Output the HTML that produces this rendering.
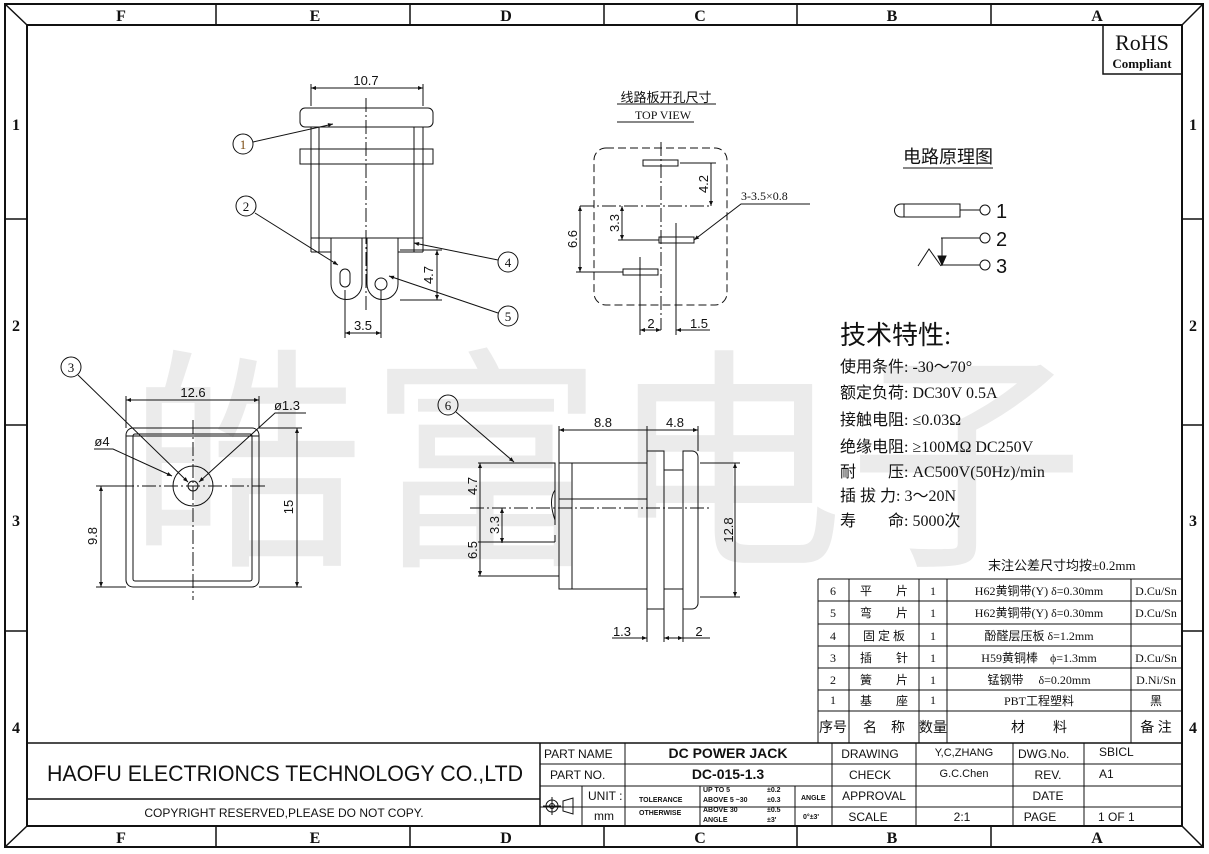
<!DOCTYPE html>
<html><head><meta charset="utf-8"><style>
html,body{margin:0;padding:0;background:#fff;}
svg{display:block;}
text{font-family:"Liberation Sans","Noto Sans CJK SC",sans-serif;fill:#111;}
.s,.s text{font-family:"Liberation Serif","Noto Serif CJK SC","Noto Sans CJK SC",serif;}
.cj,.cj text{font-family:"Liberation Serif","Noto Sans CJK SC",serif;}
</style></head><body>
<svg width="1209" height="854" viewBox="0 0 1209 854" xmlns="http://www.w3.org/2000/svg">
<defs><marker id="a" viewBox="0 0 10 10" refX="10" refY="5" markerWidth="7" markerHeight="5" orient="auto-start-reverse"><path d="M0,1 L10,5 L0,9z" fill="#111"/></marker></defs>
<!-- watermark -->
<text x="128" y="548" font-size="236" style="font-family:'Noto Sans CJK SC',sans-serif;fill:#ebebeb" letter-spacing="4">皓富电子</text>

<g stroke="#111" fill="none">
<rect x="5" y="4" width="1198" height="843" stroke-width="2"/>
<rect x="27" y="25" width="1155" height="801" stroke-width="2"/>
<path d="M5,4 L27,25 M1203,4 L1182,25 M5,847 L27,826 M1203,847 L1182,826" stroke-width="1.5"/>
<path d="M216,4V25 M410,4V25 M604,4V25 M797,4V25 M991,4V25 M216,826V847 M410,826V847 M604,826V847 M797,826V847 M991,826V847" stroke-width="1.5"/>
<path d="M5,219H27 M5,425H27 M5,631H27 M1182,219H1203 M1182,425H1203 M1182,631H1203" stroke-width="1.5"/>
<rect x="1103" y="25" width="79" height="49" stroke-width="1.5"/>

<path d="M27,743H1182 M27,799H540 M540,743V826" stroke-width="1.5"/>
<path d="M540,764H1182 M540,786H1182 M540,807H1182 M625,743V826 M832,743V826 M916,743V826 M1013,743V826 M1084,743V826 M582,786V826 M700,786V826 M795,786V826" stroke-width="1"/>
<path d="M818,579H1182 M818,601H1182 M818,624H1182 M818,646H1182 M818,668H1182 M818,690H1182 M818,711H1182 M818,579V743 M849,579V743 M919,579V743 M947,579V743 M1131,579V743" stroke-width="1"/>

<g stroke-width="1">
<rect x="300" y="108" width="133" height="19" rx="5"/>
<rect x="300" y="149" width="133" height="15"/>
<path d="M311,127V252 M319,127V252 M414,127V252 M423,127V252 M311,238H423 M311,252H331 M398,252H423"/>
<path d="M331,238V284 A15.5,15.5 0 0 0 362,284 V238"/>
<path d="M367,238V284 A15.5,15.5 0 0 0 398,284 V238"/>
<rect x="340" y="269" width="10" height="18" rx="5"/>
<circle cx="381" cy="284" r="6"/>
<path d="M366,98V310" stroke-dasharray="14,3,2,3"/>
<path d="M311,84V106 M423,84V106"/>
<path d="M311,88H423" marker-start="url(#a)" marker-end="url(#a)"/>
<path d="M400,250H442 M400,300H442"/>
<path d="M437,250V300" marker-start="url(#a)" marker-end="url(#a)"/>
<path d="M345,290V338 M381,290V338"/>
<path d="M345,333H381" marker-start="url(#a)" marker-end="url(#a)"/>
<circle cx="243" cy="144" r="10"/><path d="M253,142L333,124" marker-end="url(#a)"/>
<circle cx="246" cy="206" r="10"/><path d="M255,213L338,265" marker-end="url(#a)"/>
<circle cx="508" cy="262" r="10"/><path d="M498,260L414,243" marker-end="url(#a)"/>
<circle cx="508" cy="316" r="10"/><path d="M498,313L389,276" marker-end="url(#a)"/>
</g>

<g stroke-width="1">
<rect x="126" y="428" width="133" height="159" rx="7"/>
<rect x="133" y="434" width="119" height="147" rx="2"/>
<path d="M126,436H259"/>
<circle cx="193" cy="486" r="20"/><circle cx="193" cy="486" r="5"/>
<path d="M98,486H265 M193,420V600" stroke-dasharray="14,3,2,3"/>
<path d="M126,396V428 M259,396V428"/>
<path d="M126,400H259" marker-start="url(#a)" marker-end="url(#a)"/>
<path d="M259,428H302 M259,587H302"/>
<path d="M297,428V587" marker-start="url(#a)" marker-end="url(#a)"/>
<path d="M96,486H126 M96,587H126"/>
<path d="M101,486V587" marker-start="url(#a)" marker-end="url(#a)"/>
<circle cx="71" cy="367" r="10"/><path d="M78,375L188,482" marker-end="url(#a)"/>
<path d="M94,449H113L172,476" marker-end="url(#a)"/>
<path d="M306,413H275L199,482" marker-end="url(#a)"/>
</g>

<g stroke-width="1">
<rect x="559" y="463" width="88" height="126"/>
<path d="M572,463V589 M559,455V463"/>
<rect x="647" y="451" width="17" height="158"/>
<path d="M664,470H683 M664,589H683"/>
<path d="M683,609V451H692A6,6 0 0 1 698,457V603A6,6 0 0 1 692,609Z"/>
<path d="M478,463H555V470 M478,542H555 M478,576H559 M514,463H535 M514,542H535 M514,576H535"/>
<path d="M555,470V525 M555,535V542"/>
<path d="M555,490Q548,500 555,520"/>
<path d="M559,499H647"/>
<path d="M470,508H710" stroke-dasharray="14,3,2,3"/>
<path d="M559,426V463 M647,426V451 M698,426V451"/>
<path d="M559,430H647 M647,430H698" marker-start="url(#a)" marker-end="url(#a)"/>
<path d="M700,463H740 M700,597H740"/>
<path d="M735,463V597" marker-start="url(#a)" marker-end="url(#a)"/>
<path d="M480,463V508 M480,508V576" marker-start="url(#a)" marker-end="url(#a)"/>
<path d="M502,508V543" marker-start="url(#a)" marker-end="url(#a)"/>
<path d="M647,609V642 M664,609V642 M683,609V642"/>
<path d="M612,638H647" marker-end="url(#a)"/><path d="M664,638H683" marker-start="url(#a)" marker-end="url(#a)"/><path d="M683,638H710"/>
<circle cx="448" cy="405" r="10"/><path d="M456,412L514,462" marker-end="url(#a)"/>
</g>

<g stroke-width="1">
<rect x="594" y="148" width="133" height="157" rx="12" stroke-dasharray="8,4"/>
<path d="M661,142V330" stroke-dasharray="14,3,2,3"/>
<path d="M580,206H712" stroke-dasharray="14,3,2,3"/>
<rect x="643" y="160" width="35" height="6"/>
<rect x="659" y="237" width="35" height="6"/>
<rect x="623" y="269" width="35" height="6"/>
<path d="M676,223V335 M640,257V335"/>
<path d="M680,163H716 M711,163V206" marker-end="url(#a)"/>
<path d="M618,240H659"/><path d="M622,206V240" marker-start="url(#a)" marker-end="url(#a)"/>
<path d="M576,272H623"/><path d="M580,206V272" marker-start="url(#a)" marker-end="url(#a)"/>
<path d="M640,330H661" marker-start="url(#a)" marker-end="url(#a)"/>
<path d="M676,330H710" marker-start="url(#a)"/>
<path d="M810,204H741L694,240" marker-end="url(#a)"/>
<path d="M617,104H716 M617,122H694"/>
</g>

<g stroke-width="1">
<path d="M901,204H960V217H901A6.5,6.5 0 0 1 901,204Z M904,204V217"/>
<path d="M960,210H980 M941,238H980 M942,238V262 M941,265H980 M918,266L929,249L941,266"/>
<path d="M938,256L942,265L946,256Z" fill="#111"/>
<circle cx="985" cy="210" r="5"/><circle cx="985" cy="238" r="5"/><circle cx="985" cy="265" r="5"/>
<path d="M903,168H993"/>
</g>

<circle cx="552" cy="806" r="6" stroke-width="1"/><circle cx="552" cy="806" r="2.5" stroke-width="1"/>
<path d="M543,806H561 M552,797V815 M563,801L573,798V814L563,811Z" stroke-width="1"/>
</g>

<g class="s" font-size="16" font-weight="bold" text-anchor="middle">
<text x="121" y="21">F</text><text x="315" y="21">E</text><text x="506" y="21">D</text><text x="700" y="21">C</text><text x="892" y="21">B</text><text x="1097" y="21">A</text>
<text x="121" y="843">F</text><text x="315" y="843">E</text><text x="506" y="843">D</text><text x="700" y="843">C</text><text x="892" y="843">B</text><text x="1097" y="843">A</text>
<text x="16" y="130">1</text><text x="16" y="331">2</text><text x="16" y="526">3</text><text x="16" y="733">4</text>
<text x="1193" y="130">1</text><text x="1193" y="331">2</text><text x="1193" y="526">3</text><text x="1193" y="733">4</text>
</g>
<text class="s" x="1142" y="50" font-size="22" text-anchor="middle">RoHS</text>
<text class="s" x="1142" y="68" font-size="13" font-weight="bold" text-anchor="middle">Compliant</text>

<g font-size="13" text-anchor="middle">
<text x="366" y="85">10.7</text>
<text x="363" y="330">3.5</text>
<text x="433" y="275" transform="rotate(-90 433 275)">4.7</text>
<text x="193" y="397">12.6</text>
<text x="287" y="410">ø1.3</text>
<text x="102" y="446">ø4</text>
<text x="293" y="507" transform="rotate(-90 293 507)">15</text>
<text x="97" y="536" transform="rotate(-90 97 536)">9.8</text>
<text x="603" y="427">8.8</text><text x="675" y="427">4.8</text>
<text x="733" y="530" transform="rotate(-90 733 530)">12.8</text>
<text x="477" y="486" transform="rotate(-90 477 486)">4.7</text>
<text x="477" y="550" transform="rotate(-90 477 550)">6.5</text>
<text x="499" y="525" transform="rotate(-90 499 525)">3.3</text>
<text x="622" y="636">1.3</text><text x="699" y="636">2</text>
<text x="708" y="184" transform="rotate(-90 708 184)">4.2</text>
<text x="619" y="223" transform="rotate(-90 619 223)">3.3</text>
<text x="577" y="239" transform="rotate(-90 577 239)">6.6</text>
<text x="651" y="328">2</text><text x="699" y="328">1.5</text>
</g>
<g class="s" font-size="13" text-anchor="middle">
<text x="243" y="149" style="fill:#7a4a10">1</text><text x="246" y="211">2</text><text x="508" y="267">4</text><text x="508" y="321">5</text>
<text x="71" y="372">3</text><text x="448" y="410">6</text>
</g>
<text class="cj" x="666" y="102" font-size="13" text-anchor="middle">线路板开孔尺寸</text>
<text class="s" x="663" y="119" font-size="12" text-anchor="middle">TOP VIEW</text>
<text class="cj" x="741" y="200" font-size="12">3-3.5×0.8</text>
<text class="cj" x="948" y="163" font-size="18" text-anchor="middle">电路原理图</text>
<g font-size="20"><text x="996" y="218">1</text><text x="996" y="246">2</text><text x="996" y="273">3</text></g>

<text class="cj" x="840" y="344" font-size="26">技术特性:</text>
<g class="cj" font-size="16">
<text x="840" y="372">使用条件: -30～70°</text>
<text x="840" y="398">额定负荷: DC30V 0.5A</text>
<text x="840" y="425">接触电阻: ≤0.03Ω</text>
<text x="840" y="452">绝缘电阻: ≥100MΩ DC250V</text>
<text x="840" y="477">耐　　压: AC500V(50Hz)/min</text>
<text x="840" y="501">插 拔 力: 3～20N</text>
<text x="840" y="526">寿　　命: 5000次</text>
</g>
<text class="cj" x="988" y="570" font-size="13">末注公差尺寸均按±0.2mm</text>

<g class="cj" font-size="12" text-anchor="middle">
<text x="833" y="595">6</text><text x="833" y="617">5</text><text x="833" y="640">4</text><text x="833" y="662">3</text><text x="833" y="684">2</text><text x="833" y="704">1</text>
<text x="884" y="595">平　　片</text><text x="884" y="617">弯　　片</text><text x="884" y="640">固 定 板</text><text x="884" y="662">插　　针</text><text x="884" y="684">簧　　片</text><text x="884" y="705">基　　座</text>
<text x="933" y="595">1</text><text x="933" y="617">1</text><text x="933" y="640">1</text><text x="933" y="662">1</text><text x="933" y="684">1</text><text x="933" y="704">1</text>
<text x="1039" y="595">H62黄铜带(Y) δ=0.30mm</text><text x="1039" y="617">H62黄铜带(Y) δ=0.30mm</text><text x="1039" y="640">酚醛层压板 δ=1.2mm</text><text x="1039" y="662">H59黄铜棒　ϕ=1.3mm</text><text x="1039" y="684">锰钢带　 δ=0.20mm</text><text x="1039" y="705">PBT工程塑料</text>
<text x="1156" y="595">D.Cu/Sn</text><text x="1156" y="617">D.Cu/Sn</text><text x="1156" y="662">D.Cu/Sn</text><text x="1156" y="684">D.Ni/Sn</text><text x="1156" y="705">黑</text>
<text x="833" y="732" font-size="14">序号</text><text x="884" y="732" font-size="14">名　称</text><text x="933" y="732" font-size="14">数量</text><text x="1039" y="732" font-size="14">材　　料</text><text x="1156" y="732" font-size="14">备 注</text>
</g>

<text x="47" y="781" font-size="22" textLength="476" lengthAdjust="spacingAndGlyphs">HAOFU ELECTRIONCS TECHNOLOGY CO.,LTD</text>
<text x="284" y="817" font-size="12" text-anchor="middle">COPYRIGHT RESERVED,PLEASE DO NOT COPY.</text>
<g font-size="12">
<text x="544" y="758">PART NAME</text><text x="550" y="779">PART NO.</text>
<text x="728" y="758" font-size="14" font-weight="bold" text-anchor="middle">DC POWER JACK</text>
<text x="728" y="779" font-size="14" font-weight="bold" text-anchor="middle">DC-015-1.3</text>
<text x="870" y="758" text-anchor="middle">DRAWING</text><text x="870" y="779" text-anchor="middle">CHECK</text>
<text x="874" y="800" text-anchor="middle">APPROVAL</text><text x="868" y="821" text-anchor="middle">SCALE</text>
<text x="964" y="756" font-size="11" text-anchor="middle">Y,C,ZHANG</text><text x="964" y="777" font-size="11" text-anchor="middle">G.C.Chen</text><text x="962" y="821" text-anchor="middle">2:1</text>
<text x="1018" y="758">DWG.No.</text><text x="1048" y="779" text-anchor="middle">REV.</text><text x="1048" y="800" text-anchor="middle">DATE</text><text x="1040" y="821" text-anchor="middle">PAGE</text>
<text x="1099" y="756">SBICL</text><text x="1099" y="778">A1</text><text x="1098" y="821">1 OF 1</text>
<text x="588" y="800">UNIT :</text><text x="594" y="820">mm</text>
</g>
<g font-size="7" font-weight="bold">
<text x="639" y="802">TOLERANCE</text><text x="639" y="815">OTHERWISE</text>
<text x="703" y="792">UP TO 5</text><text x="703" y="802">ABOVE 5 ~30</text><text x="703" y="812">ABOVE 30</text><text x="703" y="822">ANGLE</text>
<text x="767" y="792">±0.2</text><text x="767" y="802">±0.3</text><text x="767" y="812">±0.5</text><text x="767" y="822">±3'</text>
<text x="801" y="800">ANGLE</text><text x="803" y="819">0°±3'</text>
</g>
</svg>
</body></html>
